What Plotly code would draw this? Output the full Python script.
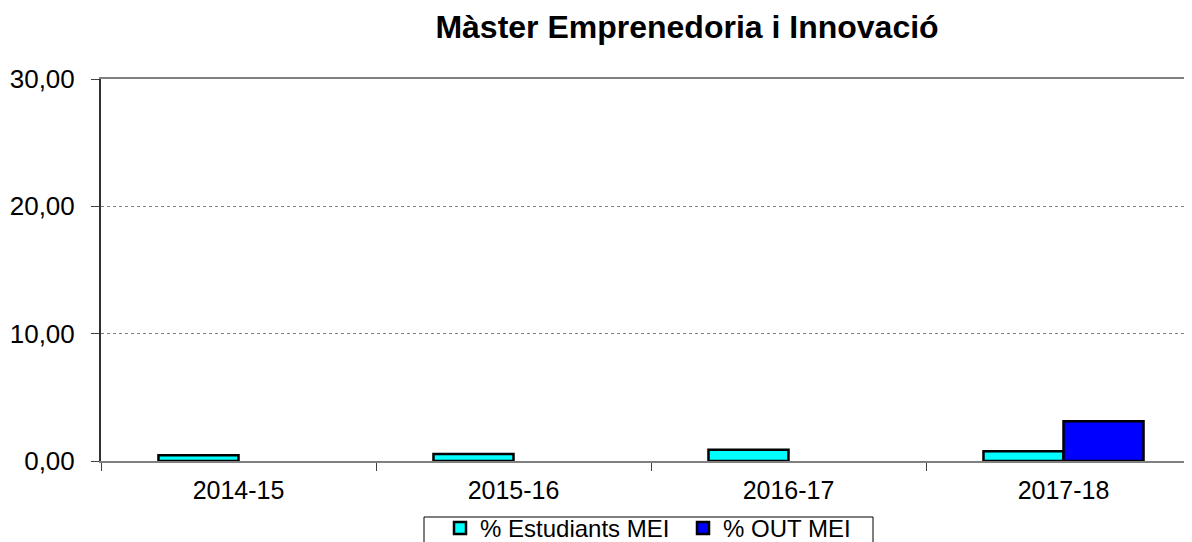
import plotly.graph_objects as go

categories = ["2014-15", "2015-16", "2016-17", "2017-18"]
estudiants_mei = [0.45, 0.55, 0.89, 0.76]
out_mei = [None, None, None, 3.12]
y_ticks = [0, 10, 20, 30]
y_tick_labels = ["0,00", "10,00", "20,00", "30,00"]

# page body has an 8px margin; figure coordinates are screen minus 8
OFF = 8
W, H = 1192 - OFF, 542 - OFF
L, T = 101 - OFF, 79 - OFF
PB = 461 - OFF            # plot bottom in figure px
R, B = 0, H - PB
pw = W - L - R
ph = PB - T


def px(sx):
    return (sx - 101) / pw


def py(sy):
    return (461 - sy) / ph


FONT = "Arial, Liberation Sans, sans-serif"

fig = go.Figure()
fig.add_trace(go.Bar(
    x=categories, y=estudiants_mei, name="% Estudiants MEI",
    marker=dict(color="#00FFFF", line=dict(color="black", width=2.5)),
))
fig.add_trace(go.Bar(
    x=categories, y=out_mei, name="% OUT MEI",
    marker=dict(color="#0000FF", line=dict(color="black", width=2.5)),
))

fig.update_layout(
    width=W, height=H,
    margin=dict(l=L, r=R, t=T, b=B, pad=0, autoexpand=False),
    paper_bgcolor="white", plot_bgcolor="white",
    barmode="group", bargap=0.418, bargroupgap=0,
    font=dict(family=FONT, color="black"),
    title=dict(
        text="<b>Màster Emprenedoria i Innovació</b>",
        font=dict(size=32, family=FONT, color="black"),
        x=px(687), xref="paper", xanchor="center",
        y=1 - (27 - OFF) / H, yref="container", yanchor="middle",
    ),
    showlegend=True,
    legend=dict(
        orientation="h",
        x=px(440), xanchor="left",
        y=py(506), yanchor="top",
        borderwidth=0,
        font=dict(size=24, family=FONT, color="black"),
        bgcolor="rgba(0,0,0,0)",
        traceorder="normal",
        entrywidth=198, entrywidthmode="pixels",
    ),
    shapes=[dict(
        type="rect", xref="paper", yref="paper",
        x0=px(424), x1=px(873), y0=py(517), y1=py(570),
        line=dict(color="black", width=1), fillcolor="rgba(0,0,0,0)",
        layer="below",
    )],
)

fig.update_xaxes(
    type="category", automargin=False,
    range=[-0.5, -0.5 + pw / 275.0],
    showline=True, linecolor="#808080", linewidth=2, mirror=True,
    ticks="outside", tickson="boundaries", ticklen=8, tickcolor="#404040", tickwidth=1,
    showgrid=False,
    tickfont=dict(size=25, family=FONT, color="black"),
    ticklabelstandoff=6,
    fixedrange=True,
)
fig.update_yaxes(
    range=[0, 30], automargin=False,
    tickvals=y_ticks, ticktext=y_tick_labels,
    showline=True, linecolor="#303030", linewidth=2, mirror=False,
    ticks="outside", ticklen=8, tickcolor="#404040", tickwidth=1,
    showgrid=True, gridcolor="#808080", gridwidth=1, griddash="dot",
    zeroline=False,
    tickfont=dict(size=26, family=FONT, color="black"),
    ticklabelstandoff=11,
    fixedrange=True,
)

fig.write_html("out.html")
